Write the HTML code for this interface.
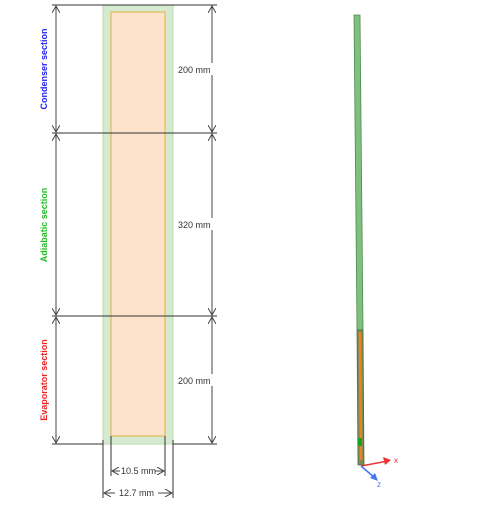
<!DOCTYPE html>
<html><head><meta charset="utf-8"><style>
body{margin:0;background:#fff;width:500px;height:500px;overflow:hidden}
text{font-family:"Liberation Sans",sans-serif}
</style></head><body>
<svg width="500" height="500">
<defs>
<marker id="ar" markerWidth="8" markerHeight="8" refX="7" refY="4" orient="auto-start-reverse" markerUnits="userSpaceOnUse"><path d="M0,0 L7,4 L0,8" fill="none" stroke="#444" stroke-width="1"/></marker>
</defs>
<rect x="103" y="5" width="70" height="439" fill="#d5ead0" stroke="#b9dcb0"/>
<rect x="111" y="12" width="54" height="424" fill="#fde3cc" stroke="#e8b040"/>
<g stroke="#333" stroke-width="1">
<line x1="52" y1="5" x2="217" y2="5"/><line x1="52" y1="133" x2="217" y2="133"/>
<line x1="52" y1="316" x2="217" y2="316"/><line x1="52" y1="444" x2="103" y2="444"/><line x1="173" y1="444" x2="217" y2="444"/>
</g>
<g stroke="#444" stroke-width="1" marker-start="url(#ar)" marker-end="url(#ar)">
<line x1="56" y1="6" x2="56" y2="132"/><line x1="56" y1="134" x2="56" y2="315"/><line x1="56" y1="317" x2="56" y2="443"/>
<line x1="212" y1="6" x2="212" y2="132"/><line x1="212" y1="134" x2="212" y2="315"/><line x1="212" y1="317" x2="212" y2="443"/>
<line x1="112" y1="471" x2="164" y2="471"/><line x1="104" y1="493" x2="172" y2="493"/>
</g>
<g stroke="#333">
<line x1="103" y1="440" x2="103" y2="498"/><line x1="173" y1="440" x2="173" y2="498"/>
<line x1="111" y1="436" x2="111" y2="476"/><line x1="165" y1="436" x2="165" y2="476"/>
</g>
<g font-size="9" fill="#333">
<rect x="176" y="63" width="38" height="12" fill="#fff"/><text x="178" y="73">200 mm</text>
<rect x="176" y="218" width="38" height="12" fill="#fff"/><text x="178" y="228">320 mm</text>
<rect x="176" y="374" width="38" height="12" fill="#fff"/><text x="178" y="384">200 mm</text>
<rect x="120" y="466" width="35" height="10" fill="#fff"/><text x="121" y="474">10.5 mm</text>
<rect x="115" y="488" width="43" height="10" fill="#fff"/><text x="119" y="496">12.7 mm</text>
</g>
<g font-size="9" font-weight="bold">
<text transform="translate(47,69) rotate(-90)" text-anchor="middle" fill="#2222ee">Condenser section</text>
<text transform="translate(47,225) rotate(-90)" text-anchor="middle" fill="#22bb22">Adiabatic section</text>
<text transform="translate(47,380) rotate(-90)" text-anchor="middle" fill="#ee2222">Evaporator section</text>
</g>
<g>
<polygon points="354,15 360,15 363,330 357,330" fill="#7fbf7f" stroke="#4d8a4d" stroke-width="0.8"/>
<polygon points="357,330 363,330 364,465 358,465" fill="#7a8c5a" stroke="#4d6a3d" stroke-width="0.8"/>
<line x1="360" y1="332" x2="361" y2="460" stroke="#f08020" stroke-width="2.5"/>
<rect x="358" y="438" width="4" height="8" fill="#20a020"/>
</g>
<g>
<line x1="361" y1="466" x2="388" y2="461" stroke="#ee3333" stroke-width="1.5"/>
<polygon points="391,460 383,457 385,465" fill="#ee3333"/>
<text x="394" y="463" font-size="8" fill="#ee3333">x</text>
<line x1="361" y1="466" x2="375" y2="478" stroke="#4477ee" stroke-width="1.5"/>
<polygon points="378,481 370,478 375,473" fill="#4477ee"/>
<text x="377" y="487" font-size="8" fill="#4477ee">z</text>
</g>
</svg>
</body></html>
